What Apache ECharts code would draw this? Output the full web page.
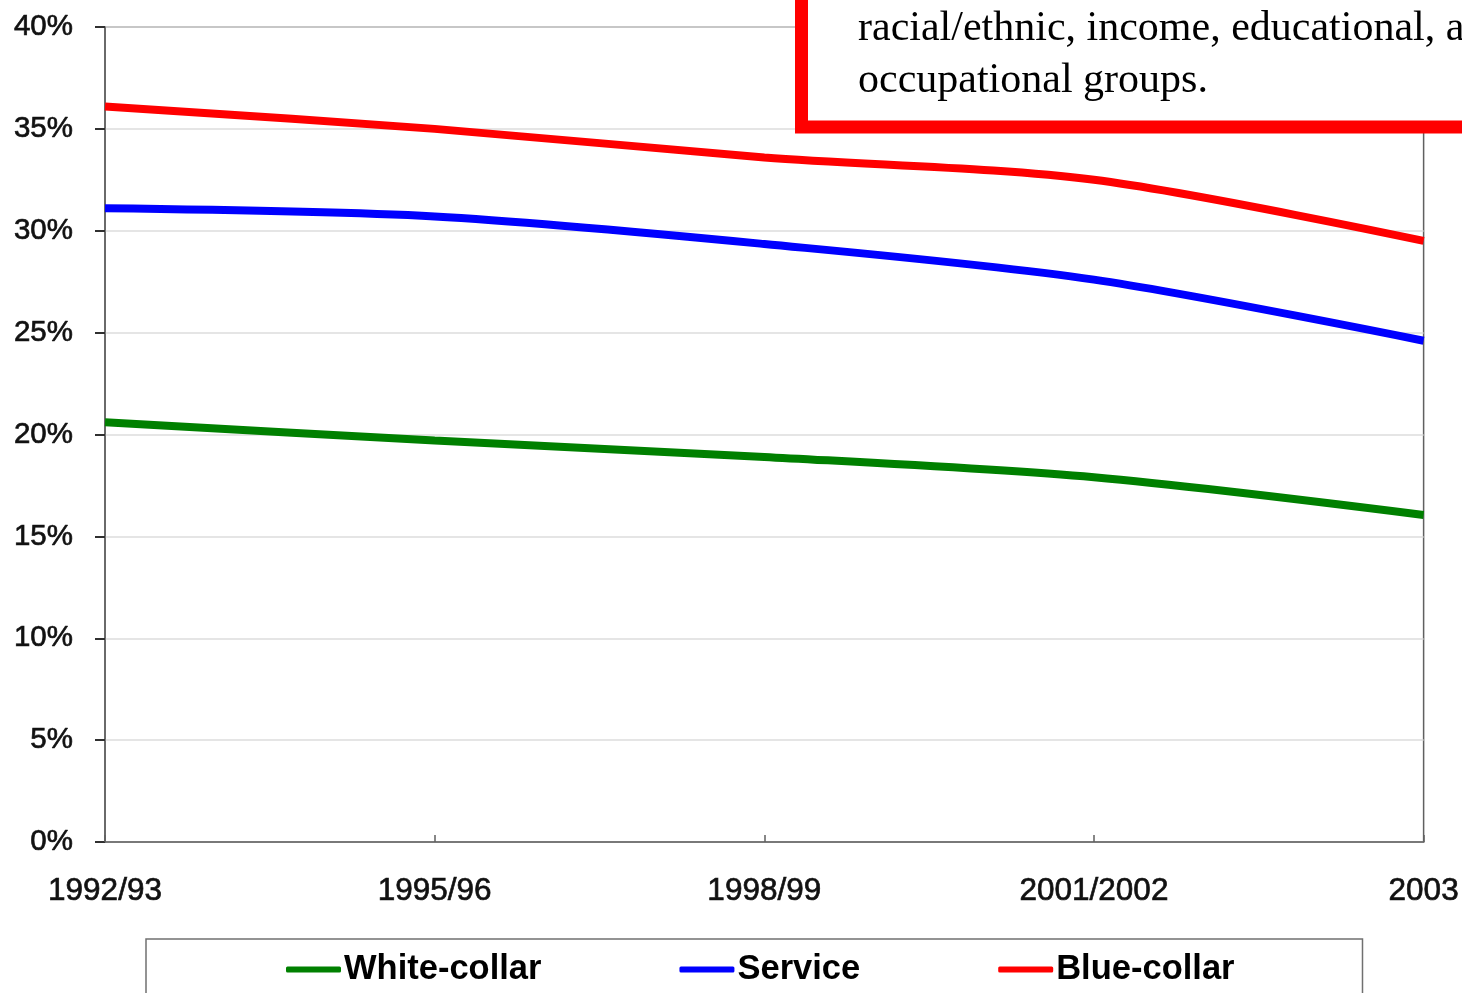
<!DOCTYPE html>
<html>
<head>
<meta charset="utf-8">
<script src="https://cdn.jsdelivr.net/npm/echarts@6/dist/echarts.min.js"></script>
<style>
  html, body { margin: 0; padding: 0; background: #fff; }
  #chart { width: 1462px; height: 993px; }
</style>
</head>
<body>
<div id="chart"></div>
<script>
// Survey years on the horizontal axis
const years = ['1992/93', '1995/96', '1998/99', '2001/2002', '2003'];

// Share (%) for each occupational group
const whiteCollar = [20.6, 19.7, 18.9, 17.9, 16.05];
const service     = [31.1, 30.7, 29.35, 27.6, 24.6];
const blueCollar  = [36.1, 35.0, 33.6, 32.5, 29.5];

// Y axis range and step (percent)
const yMin = 0, yMax = 40, yStep = 5;

// Callout text lines
const noteLines = ['racial/ethnic, income, educational, and', 'occupational groups.'];

const chart = echarts.init(document.getElementById('chart'), null, { renderer: 'canvas' });

const lineSeries = (name, data, color) => ({
  name: name,
  type: 'line',
  data: data,
  smooth: 0.3,
  symbol: 'none',
  lineStyle: { color: color, width: 8 },
  itemStyle: { color: color },
  z: 3
});

const axisFont = {
  color: '#111',
  fontFamily: 'Liberation Sans, Arial, sans-serif',
  textBorderColor: '#222',
  textBorderWidth: 0.7
};

chart.setOption({
  animation: false,
  backgroundColor: '#ffffff',
  grid: {
    left: 105, right: 38, top: 27, bottom: 151,
    show: true, borderColor: '#606060', borderWidth: 1.5, backgroundColor: 'transparent'
  },
  xAxis: {
    type: 'category',
    data: years,
    boundaryGap: false,
    axisLine: { lineStyle: { color: '#606060', width: 1.5 } },
    axisTick: { inside: true, length: 7, lineStyle: { color: '#606060', width: 1.5 } },
    axisLabel: Object.assign({
      fontSize: 31.5, margin: 33, showMaxLabel: true, showMinLabel: true
    }, axisFont),
    splitLine: { show: false }
  },
  yAxis: {
    type: 'value',
    min: yMin, max: yMax, interval: yStep,
    axisLine: { show: true, lineStyle: { color: '#606060', width: 1.5 } },
    axisTick: { show: true, inside: false, length: 10, lineStyle: { color: '#303030', width: 2 } },
    axisLabel: Object.assign({
      formatter: '{value}%', fontSize: 29.5, margin: 32
    }, axisFont),
    splitLine: { show: true, lineStyle: { color: '#dddddd', width: 1.5 } }
  },
  legend: {
    left: 146, top: 939,
    orient: 'horizontal',
    padding: [13, 128, 60, 140],
    itemGap: 138,
    itemWidth: 55, itemHeight: 6,
    borderColor: '#707070', borderWidth: 1.5,
    icon: 'roundRect',
    textStyle: {
      color: '#000', fontFamily: 'Liberation Sans, Arial, sans-serif',
      fontSize: 34.5, fontWeight: 'bold', padding: [0, 0, 0, -2]
    },
    data: ['White-collar', 'Service', 'Blue-collar']
  },
  series: [
    lineSeries('White-collar', whiteCollar, '#008000'),
    lineSeries('Service', service, '#0000ff'),
    lineSeries('Blue-collar', blueCollar, '#ff0000')
  ],
  graphic: [
    {
      type: 'rect', z: 100,
      shape: { x: 801.5, y: -30, width: 720, height: 157 },
      style: { fill: '#ffffff', stroke: '#ff0000', lineWidth: 13 }
    },
    {
      type: 'text', z: 101, left: 858, top: 3,
      style: {
        text: noteLines.join('\n'),
        font: '42px "Liberation Serif", "Times New Roman", serif',
        lineHeight: 52, fill: '#000'
      }
    }
  ]
});
</script>
</body>
</html>
